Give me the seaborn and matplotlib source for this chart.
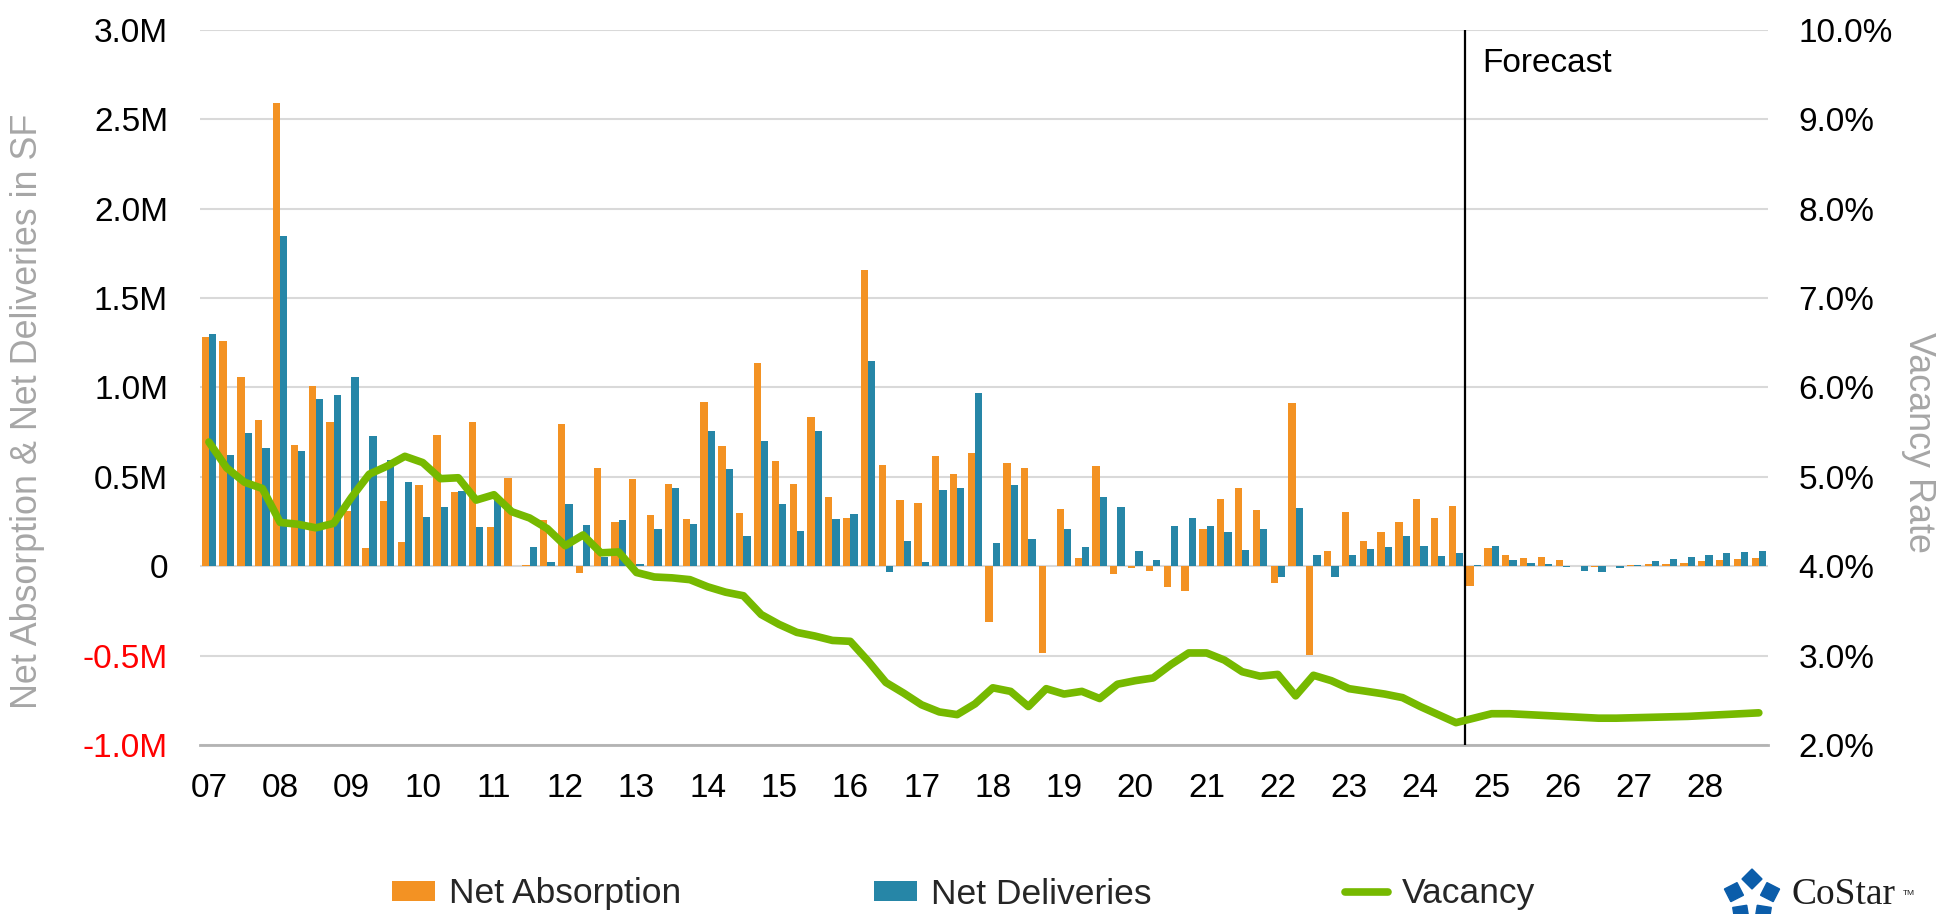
import numpy as np
import pandas as pd
import matplotlib
matplotlib.use("Agg")
import matplotlib.pyplot as plt
import seaborn as sns
from matplotlib.patches import Patch, RegularPolygon
from matplotlib.lines import Line2D
from matplotlib.transforms import IdentityTransform

# -----------------------------
# Data (quarterly, 2007 Q1 - 2028 Q4)
# -----------------------------
years = [f"{y:02d}" for y in range(7, 29)]
quarters = [f"{y}Q{q}" for y in years for q in range(1, 5)]

# net absorption, million SF
net_absorption = [
    1.281, 1.258, 1.056, 0.819,   # 07
    2.590, 0.678, 1.006, 0.805,   # 08
    0.310, 0.104, 0.366, 0.135,   # 09
    0.453, 0.736, 0.414, 0.809,   # 10
    0.222, 0.491, 0.005, 0.260,   # 11
    0.796, -0.040, 0.552, 0.246,  # 12
    0.490, 0.287, 0.459, 0.265,   # 13
    0.917, 0.672, 0.300, 1.139,   # 14
    0.589, 0.459, 0.837, 0.389,   # 15
    0.269, 1.657, 0.567, 0.370,   # 16
    0.352, 0.619, 0.515, 0.635,   # 17
    -0.311, 0.578, 0.552, -0.485, # 18
    0.322, 0.044, 0.559, -0.043,  # 19
    -0.010, -0.024, -0.117, -0.139,  # 20
    0.207, 0.374, 0.439, 0.315,   # 21
    -0.093, 0.913, -0.496, 0.087, # 22
    0.304, 0.139, 0.190, 0.246,   # 23
    0.374, 0.272, 0.337, -0.111,  # 24
    0.102, 0.065, 0.044, 0.050,   # 25
    0.037, 0.004, -0.002, 0.001,  # 26
    0.007, 0.011, 0.013, 0.019,   # 27
    0.028, 0.033, 0.041, 0.048,   # 28
]

# net deliveries, million SF
net_deliveries = [
    1.300, 0.620, 0.746, 0.663,   # 07
    1.850, 0.645, 0.933, 0.956,   # 08
    1.060, 0.728, 0.593, 0.470,   # 09
    0.277, 0.331, 0.420, 0.218,   # 10
    0.385, 0.003, 0.110, 0.023,   # 11
    0.350, 0.230, 0.050, 0.256,   # 12
    0.010, 0.209, 0.435, 0.237,   # 13
    0.757, 0.543, 0.169, 0.700,   # 14
    0.350, 0.198, 0.759, 0.263,   # 15
    0.291, 1.148, -0.033, 0.139,  # 16
    0.022, 0.424, 0.439, 0.969,   # 17
    0.130, 0.457, 0.152, 0.000,   # 18
    0.209, 0.107, 0.389, 0.330,   # 19
    0.087, 0.037, 0.226, 0.269,   # 20
    0.226, 0.190, 0.089, 0.206,   # 21
    -0.059, 0.328, 0.061, -0.061, # 22
    0.065, 0.096, 0.109, 0.170,   # 23
    0.111, 0.056, 0.074, 0.005,   # 24
    0.111, 0.037, 0.019, 0.011,   # 25
    -0.006, -0.028, -0.031, -0.009,  # 26
    0.009, 0.028, 0.041, 0.052,   # 27
    0.063, 0.074, 0.080, 0.087,   # 28
]

# vacancy rate, %
vacancy = [
    5.39, 5.10, 4.94, 4.87,   # 07
    4.49, 4.47, 4.43, 4.48,   # 08
    4.77, 5.03, 5.12, 5.23,   # 09
    5.16, 4.98, 4.99, 4.74,   # 10
    4.80, 4.61, 4.54, 4.42,   # 11
    4.23, 4.35, 4.15, 4.16,   # 12
    3.93, 3.88, 3.87, 3.85,   # 13
    3.77, 3.71, 3.67, 3.46,   # 14
    3.35, 3.26, 3.22, 3.17,   # 15
    3.16, 2.94, 2.70, 2.58,   # 16
    2.45, 2.37, 2.34, 2.46,   # 17
    2.64, 2.60, 2.43, 2.63,   # 18
    2.57, 2.60, 2.52, 2.68,   # 19
    2.72, 2.75, 2.90, 3.03,   # 20
    3.03, 2.95, 2.82, 2.77,   # 21
    2.79, 2.55, 2.78, 2.72,   # 22
    2.63, 2.60, 2.57, 2.53,   # 23
    2.43, 2.34, 2.25, 2.30,   # 24
    2.35, 2.35, 2.34, 2.33,   # 25
    2.32, 2.31, 2.30, 2.30,   # 26
    2.305, 2.31, 2.315, 2.32, # 27
    2.33, 2.34, 2.35, 2.36,   # 28
]

left_ticks = [-1.0, -0.5, 0.0, 0.5, 1.0, 1.5, 2.0, 2.5, 3.0]
left_labels = ["-1.0M", "-0.5M", "0", "0.5M", "1.0M", "1.5M", "2.0M", "2.5M", "3.0M"]
right_ticks = [2, 3, 4, 5, 6, 7, 8, 9, 10]
right_labels = [f"{v:.1f}%" for v in right_ticks]

forecast_start = "24Q4"

ORANGE = "#F39223"
TEAL = "#2686A7"
GREEN = "#76B900"
GRAY_TXT = "#A6A6A6"
AXIS_GRAY = "#B3B3B3"

bars = pd.DataFrame({
    "quarter": quarters + quarters,
    "series": ["Net Absorption"] * len(quarters) + ["Net Deliveries"] * len(quarters),
    "value": net_absorption + net_deliveries,
})

# -----------------------------
# Figure
# -----------------------------
sns.set_theme(style="white")
plt.rcParams["font.family"] = ["Liberation Sans", "DejaVu Sans"]

fig = plt.figure(figsize=(19.4, 9.14), dpi=100)
ax = fig.add_axes([0.1031, 0.1849, 0.8081, 0.7823])

sns.barplot(
    data=bars, x="quarter", y="value", hue="series",
    order=quarters, hue_order=["Net Absorption", "Net Deliveries"],
    palette=[ORANGE, TEAL], width=0.82, saturation=1,
    errorbar=None, linewidth=0, legend=False, ax=ax,
)

ax2 = ax.twinx()
sns.lineplot(
    x=np.arange(len(quarters)), y=vacancy, ax=ax2,
    color=GREEN, linewidth=5.5, solid_joinstyle="round", solid_capstyle="round",
)

ax.set_xlim(-0.5, len(quarters) - 0.5)
ax.set_ylim(-1.0, 3.0)
ax2.set_ylim(2, 10)

for a in (ax, ax2):
    a.set_xlabel("")
    a.set_ylabel("")
    for s in ("left", "right", "top"):
        a.spines[s].set_visible(False)
ax2.spines["bottom"].set_visible(False)
ax.spines["bottom"].set_color(AXIS_GRAY)
ax.spines["bottom"].set_linewidth(2)

# gridlines
ax.set_axisbelow(True)
ax.grid(axis="y", color="#D9D9D9", linewidth=1.5)
ax.grid(axis="x", visible=False)
ax2.grid(False)

# left axis
ax.set_yticks(left_ticks)
ax.set_yticklabels(left_labels)
ax.tick_params(axis="y", length=0, pad=23, labelsize=24, labelcolor="black")
for lab, v in zip(ax.get_yticklabels(), left_ticks):
    lab.set_color("red" if v < 0 else "black")

# right axis
ax2.set_yticks(right_ticks)
ax2.set_yticklabels(right_labels)
ax2.tick_params(axis="y", length=0, pad=22, labelsize=24, labelcolor="black")

# x axis: year boundary ticks, half-year minor ticks, labels under Q1
ax.set_xticks(np.arange(-0.5, len(quarters), 4))
ax.set_xticks(np.arange(1.5, len(quarters), 4), minor=True)
ax.tick_params(axis="x", which="major", direction="inout", length=15, width=2,
               color=AXIS_GRAY, labelbottom=False)
ax.tick_params(axis="x", which="minor", direction="in", length=5, width=2,
               color=AXIS_GRAY, labelbottom=False)

sec = ax.secondary_xaxis("bottom")
sec.set_xticks(np.arange(0, len(quarters), 4))
sec.set_xticklabels(years)
sec.tick_params(axis="x", length=0, pad=20, labelsize=24, labelcolor="black")
sec.spines["bottom"].set_visible(False)

# forecast marker
fx = quarters.index(forecast_start) - 0.5
ax.axvline(fx, color="black", linewidth=1.6, zorder=5)
ax.text(fx + 1.0, 2.767, "Forecast", fontsize=24, ha="left", va="baseline", color="black")

# axis titles
fig.text(28 / 1940, 1 - 411 / 914, "Net Absorption & Net Deliveries in SF", rotation=90,
         ha="center", va="center", fontsize=25.8, color=GRAY_TXT)
fig.text(1919 / 1940, 1 - 442 / 914, "Vacancy Rate", rotation=270,
         ha="center", va="center", fontsize=25.8, color=GRAY_TXT)

# legend
handles = [
    Patch(facecolor=ORANGE, edgecolor="none"),
    Patch(facecolor=TEAL, edgecolor="none"),
    Line2D([0], [0], color=GREEN, linewidth=5.5, solid_capstyle="round"),
]
fig.legend(
    handles, ["Net Absorption", "Net Deliveries", "Vacancy"],
    loc="center left", bbox_to_anchor=(392 / 1940, 1 - 894 / 914),
    ncol=3, frameon=False, fontsize=25.5, handlelength=1.21, handleheight=0.51,
    handletextpad=0.40, columnspacing=5.45, borderpad=0, borderaxespad=0,
)

# CoStar logo
cx, cy, r = 1752, 914 - 898, 19
for ang in (90, 18, -54, -126, 162):
    t = np.deg2rad(ang)
    fig.add_artist(RegularPolygon(
        (cx + r * np.cos(t), cy + r * np.sin(t)), 4, radius=10,
        orientation=t, color="#0B5DAA", transform=IdentityTransform(),
    ))
fig.text(1792 / 1940, 1 - 904 / 914, "CoStar", fontsize=27, family=["Liberation Serif", "DejaVu Serif"],
         color="#1E1E1E", ha="left", va="baseline")
fig.text(1903 / 1940, 1 - 895 / 914, "TM", fontsize=6, color="#1E1E1E", ha="left", va="baseline")

fig.savefig("out.png", dpi=100)
